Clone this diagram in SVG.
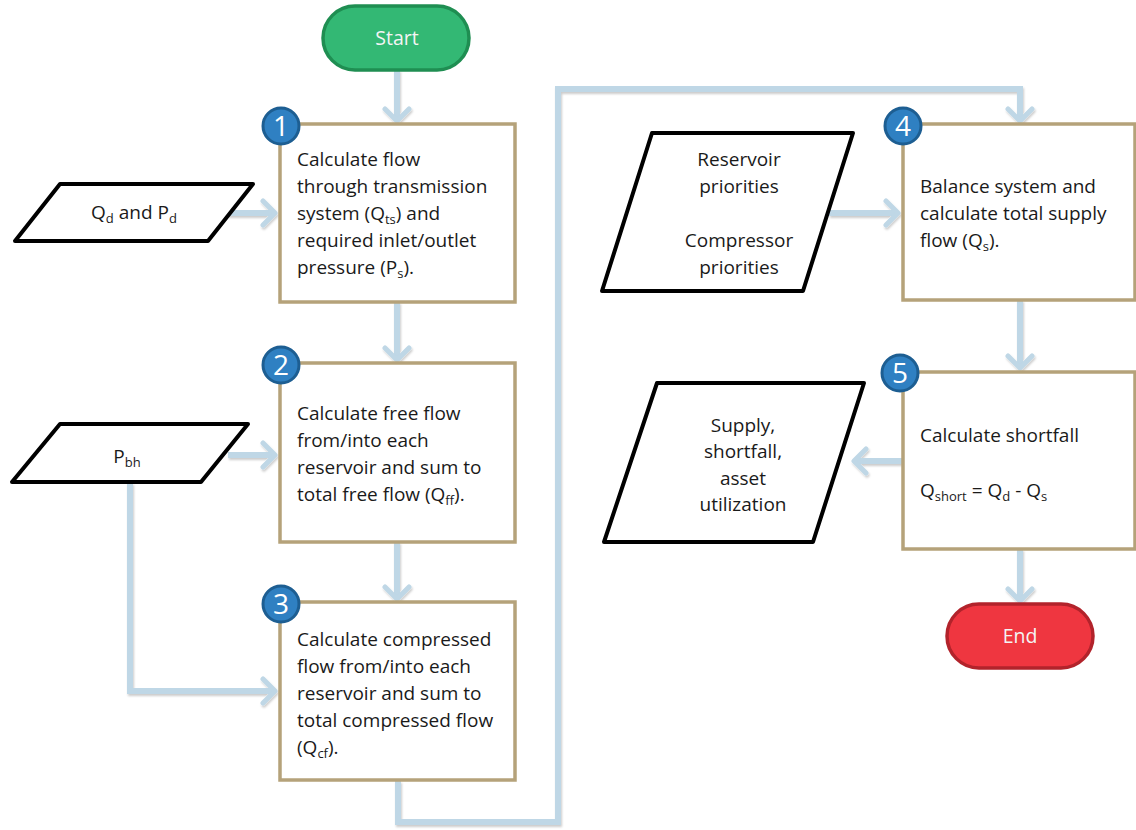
<svg xmlns="http://www.w3.org/2000/svg" width="1136" height="830" viewBox="0 0 1136 830">
  <style>
    .txt { font-family: "Open Sans", "Liberation Sans", sans-serif; font-size: 19px; fill: #1a1a1a; }
    .mid { text-anchor: middle; }
    .box { fill: #ffffff; stroke: #B5A27A; stroke-width: 3.5; }
    .io { fill: #ffffff; stroke: #000000; stroke-width: 4; stroke-linejoin: round; }
    .badge { fill: #2F80C2; stroke: #1D5E92; stroke-width: 3; }
    .badge-num { font-family: "Open Sans", "Liberation Sans", sans-serif; font-size: 28px; fill: #ffffff; text-anchor: middle; }
    .term-txt { font-family: "Open Sans", "Liberation Sans", sans-serif; font-size: 19.5px; fill: #f4f4f4; text-anchor: middle; }
    .flow { fill: none; stroke: #BFD7E6; stroke-width: 6; stroke-linejoin: miter; }
    .sub { font-size: 13px; }
  </style>
  <defs>
    <marker id="chev" markerUnits="userSpaceOnUse" markerWidth="30" markerHeight="30" viewBox="0 0 30 30" refX="18" refY="15" orient="auto">
      <path d="M7,3 L19,15 L7,27" fill="none" stroke="#BFD7E6" stroke-width="5" stroke-linecap="round" stroke-linejoin="round"/>
    </marker>
    <filter id="soft" x="-10%" y="-10%" width="120%" height="130%">
      <feDropShadow dx="1" dy="2" stdDeviation="1.2" flood-color="#000" flood-opacity="0.2"/>
    </filter>
  </defs>

  <!-- connectors -->
  <g id="connectors" filter="url(#soft)">
    <path class="flow" d="M397,70 V120" marker-end="url(#chev)"/>
    <path class="flow" d="M397,302 V359" marker-end="url(#chev)"/>
    <path class="flow" d="M397,542 V598" marker-end="url(#chev)"/>
    <path class="flow" d="M228,213 H274" marker-end="url(#chev)"/>
    <path class="flow" d="M228,455 H274" marker-end="url(#chev)"/>
    <path class="flow" d="M130,483 V691 H274" marker-end="url(#chev)"/>
    <path class="flow" d="M398,781 V822 H558 V89 H1020 V120" marker-end="url(#chev)"/>
    <path class="flow" d="M829,213 H897" marker-end="url(#chev)"/>
    <path class="flow" d="M1020,300 V367" marker-end="url(#chev)"/>
    <path class="flow" d="M902,461 H855" marker-end="url(#chev)"/>
    <path class="flow" d="M1020,549 V600" marker-end="url(#chev)"/>
  </g>

  <!-- start terminal -->
  <g id="start">
    <rect x="323" y="6" width="146" height="64" rx="32" fill="#33B874" stroke="#1F8E52" stroke-width="3.5"/>
    <text class="term-txt" x="397" y="45">Start</text>
  </g>

  <!-- step 1 -->
  <g id="step1">
    <rect class="box" x="280" y="124" width="235" height="178"/>
    <text class="txt" x="297" y="166">Calculate flow</text>
    <text class="txt" x="297" y="193">through transmission</text>
    <text class="txt" x="297" y="220">system (Q<tspan class="sub" dy="4">ts</tspan><tspan dy="-4">) and</tspan></text>
    <text class="txt" x="297" y="247">required inlet/outlet</text>
    <text class="txt" x="297" y="274">pressure (P<tspan class="sub" dy="4">s</tspan><tspan dy="-4">).</tspan></text>
    <circle class="badge" cx="281" cy="126" r="18"/>
    <text class="badge-num" x="281" y="136">1</text>
  </g>

  <!-- demand input -->
  <g id="input-demand">
    <polygon class="io" points="15,241 60,184 253,184 208,241"/>
    <text class="txt mid" x="134" y="219">Q<tspan class="sub" dy="4">d</tspan><tspan dy="-4"> and P</tspan><tspan class="sub" dy="4">d</tspan></text>
  </g>

  <!-- step 2 -->
  <g id="step2">
    <rect class="box" x="280" y="363" width="235" height="179"/>
    <text class="txt" x="297" y="420">Calculate free flow</text>
    <text class="txt" x="297" y="447">from/into each</text>
    <text class="txt" x="297" y="474">reservoir and sum to</text>
    <text class="txt" x="297" y="501">total free flow (Q<tspan class="sub" dy="4">ff</tspan><tspan dy="-4">).</tspan></text>
    <circle class="badge" cx="281" cy="365" r="18"/>
    <text class="badge-num" x="281" y="375">2</text>
  </g>

  <!-- bottom-hole pressure input -->
  <g id="input-pbh">
    <polygon class="io" points="12,482 60,424 248,424 201,482"/>
    <text class="txt mid" x="127" y="463">P<tspan class="sub" dy="4">bh</tspan></text>
  </g>

  <!-- step 3 -->
  <g id="step3">
    <rect class="box" x="280" y="602" width="235" height="178"/>
    <text class="txt" x="297" y="646">Calculate compressed</text>
    <text class="txt" x="297" y="673">flow from/into each</text>
    <text class="txt" x="297" y="700">reservoir and sum to</text>
    <text class="txt" x="297" y="727">total compressed flow</text>
    <text class="txt" x="297" y="754">(Q<tspan class="sub" dy="4">cf</tspan><tspan dy="-4">).</tspan></text>
    <circle class="badge" cx="281" cy="604" r="18"/>
    <text class="badge-num" x="281" y="614">3</text>
  </g>

  <!-- priorities input -->
  <g id="input-priorities">
    <polygon class="io" points="602,291 652,133 853,133 803,291"/>
    <text class="txt mid" x="739" y="166">Reservoir</text>
    <text class="txt mid" x="739" y="193">priorities</text>
    <text class="txt mid" x="739" y="247">Compressor</text>
    <text class="txt mid" x="739" y="274">priorities</text>
  </g>

  <!-- step 4 -->
  <g id="step4">
    <rect class="box" x="903" y="124" width="232" height="176"/>
    <text class="txt" x="920" y="193">Balance system and</text>
    <text class="txt" x="920" y="220">calculate total supply</text>
    <text class="txt" x="920" y="247">flow (Q<tspan class="sub" dy="4">s</tspan><tspan dy="-4">).</tspan></text>
    <circle class="badge" cx="903" cy="126" r="18"/>
    <text class="badge-num" x="903" y="136">4</text>
  </g>

  <!-- step 5 -->
  <g id="step5">
    <rect class="box" x="903" y="372" width="232" height="177"/>
    <text class="txt" x="920" y="442">Calculate shortfall</text>
    <text class="txt" x="920" y="497">Q<tspan class="sub" dy="4">short</tspan><tspan dy="-4"> = Q</tspan><tspan class="sub" dy="4">d</tspan><tspan dy="-4"> - Q</tspan><tspan class="sub" dy="4">s</tspan></text>
    <circle class="badge" cx="900" cy="373" r="18"/>
    <text class="badge-num" x="900" y="383">5</text>
  </g>

  <!-- results output -->
  <g id="output-results">
    <polygon class="io" points="604,542 657,383 864,383 813,542"/>
    <text class="txt mid" x="743" y="432">Supply,</text>
    <text class="txt mid" x="743" y="458">shortfall,</text>
    <text class="txt mid" x="743" y="485">asset</text>
    <text class="txt mid" x="743" y="511">utilization</text>
  </g>

  <!-- end terminal -->
  <g id="end">
    <rect x="947" y="604" width="146" height="64" rx="32" fill="#EF3640" stroke="#B2232B" stroke-width="3.5"/>
    <text class="term-txt" x="1020" y="643">End</text>
  </g>
</svg>
